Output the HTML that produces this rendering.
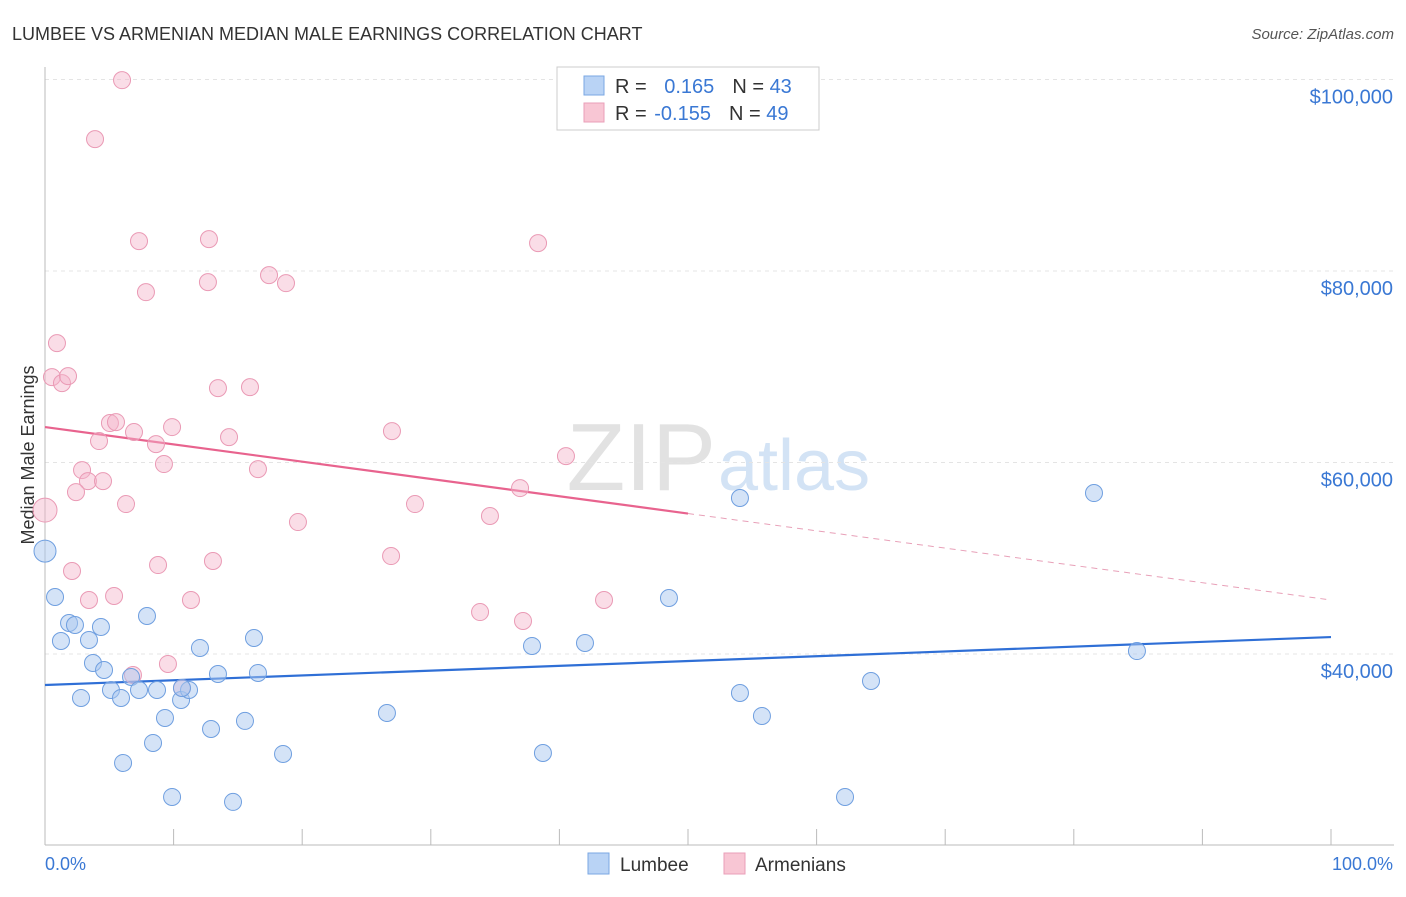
<!DOCTYPE html>
<html><head><meta charset="utf-8"><style>
body{margin:0;background:#fff;font-family:"Liberation Sans",sans-serif;}
svg text{font-family:"Liberation Sans",sans-serif;}
</style></head><body>
<svg id="c" width="1406" height="892" xmlns="http://www.w3.org/2000/svg">
<text x="12" y="40" font-size="18" fill="#333">LUMBEE VS ARMENIAN MEDIAN MALE EARNINGS CORRELATION CHART</text>
<text x="1394" y="39" font-size="15" fill="#555" text-anchor="end" font-style="italic">Source: ZipAtlas.com</text>
<text x="716" y="490" font-size="96" fill="#e2e2e2" text-anchor="end" font-family="Liberation Serif">ZIP</text>
<text x="718" y="490" font-size="72" fill="#d3e3f5">atlas</text>
<text transform="translate(34,455) rotate(-90)" font-size="18" fill="#333" text-anchor="middle">Median Male Earnings</text>
<g id="grid"></g><g id="trend"></g><g id="pts"></g>
<rect x="557" y="67" width="262" height="63" fill="#fff" stroke="#ccc"/>
<rect x="584" y="76" width="20" height="19" fill="#b9d3f5" stroke="#7aa7e3"/>
<rect x="584" y="103" width="20" height="19" fill="#f8c6d4" stroke="#ea9fb8"/>
<text x="615" y="93" font-size="20" fill="#333">R = <tspan fill="#3a78d4" dx="12">0.165</tspan><tspan dx="18" fill="#333">N = </tspan><tspan fill="#3a78d4">43</tspan></text>
<text x="615" y="120" font-size="20" fill="#333">R = <tspan fill="#3a78d4" dx="2">-0.155</tspan><tspan dx="18" fill="#333">N = </tspan><tspan fill="#3a78d4">49</tspan></text>
<rect x="588" y="853" width="21" height="21" fill="#b9d3f5" stroke="#7aa7e3"/>
<text x="620" y="871" font-size="19" fill="#333">Lumbee</text>
<rect x="724" y="853" width="21" height="21" fill="#f8c6d4" stroke="#ea9fb8"/>
<text x="755" y="871" font-size="19" fill="#333">Armenians</text>
<text x="45" y="870" font-size="18" fill="#3a78d4">0.0%</text>
<text x="1393" y="870" font-size="18" fill="#3a78d4" text-anchor="end">100.0%</text>
</svg>
<script>
const yTicks=[40000,60000,80000,100000];
const yTickLabels=["$40,000","$60,000","$80,000","$100,000"];
const xTicks=[0,10,20,30,40,50,60,70,80,90,100];
const lumbeeX=[0,0.78,1.24,1.87,2.33,3.42,4.35,3.73,4.59,2.80,5.13,5.91,6.69,7.31,8.71,6.07,7.93,8.40,9.33,9.88,10.58,11.20,10.65,12.05,12.91,13.45,14.62,15.55,16.25,16.56,18.51,26.59,37.87,38.72,41.99,48.52,54.04,54.04,55.75,62.21,64.23,81.57,84.91];
const lumbeeY=[50.75,45.95,41.36,43.24,43.03,41.46,42.82,39.06,38.33,35.41,36.24,35.41,37.60,36.24,36.24,28.62,43.97,30.71,33.32,25.07,35.20,36.24,36.45,40.63,32.17,37.91,24.55,33.01,41.67,38.02,29.56,33.84,40.84,29.66,41.15,45.85,56.29,35.93,33.53,25.07,37.18,56.81,40.31];
const armX=[5.99,3.89,7.31,12.75,38.34,7.85,12.67,17.42,18.74,0.93,0.54,1.32,1.79,13.45,15.94,5.05,5.52,6.92,9.88,4.20,8.63,14.31,26.98,2.88,9.25,16.56,40.51,3.34,4.51,2.41,6.30,0,19.67,28.77,34.60,36.94,2.10,8.79,13.06,26.91,3.42,5.37,11.35,33.83,43.47,37.17,9.56,6.84,10.65];
const armY=[99.93,93.77,83.12,83.33,82.91,77.79,78.84,79.57,78.73,72.47,68.92,68.29,69.02,67.77,67.87,64.12,64.22,63.18,63.70,62.24,61.92,62.65,63.28,59.21,59.84,59.31,60.67,58.06,58.06,56.91,55.66,55.03,53.78,55.66,54.41,57.33,48.67,49.29,49.71,50.23,45.64,46.06,45.64,44.38,45.64,43.45,38.96,37.81,36.45];
const lumbeeTrend=[36.76,41.77];
const armTrend=[63.70,45.64];
const X=p=>45+p*12.86;
const Y=v=>654-(v-40000)*191.5/20000;
const Yk=k=>Y(k*1000);
const NS="http://www.w3.org/2000/svg";
function mk(tag,attrs,parent){const e=document.createElementNS(NS,tag);for(const k in attrs)e.setAttribute(k,attrs[k]);parent.appendChild(e);return e;}
const g=document.getElementById('grid');
yTicks.forEach((t,i)=>{
 let l=mk('line',{x1:45,x2:1394,y1:Y(t),y2:Y(t),stroke:'#e4e4e4','stroke-dasharray':'4,4'},g);
 
 
 let tx=mk('text',{x:1393,y:Y(t)+24,'font-size':20,fill:'#3a78d4','text-anchor':'end'},g);
 tx.textContent=yTickLabels[i];
 
 
});
let ax=mk('line',{x1:45,x2:45,y1:67,y2:845,stroke:'#bbb'},g);


let bx=mk('line',{x1:45,x2:1394,y1:845,y2:845,stroke:'#bbb'},g);


xTicks.forEach(t=>{
 let l=mk('line',{x1:X(t),x2:X(t),y1:829,y2:845,stroke:'#bbb'},g);
 
 
});
const tr=document.getElementById('trend');
let bl=mk('line',{x1:X(0),y1:Yk(lumbeeTrend[0]),x2:X(100),y2:Yk(lumbeeTrend[1]),stroke:'#2f6fd6','stroke-width':2.2},tr);


const am=(armTrend[0]+armTrend[1])/2;
let pl=mk('line',{x1:X(0),y1:Yk(armTrend[0]),x2:X(50),y2:Yk(am),stroke:'#e8638e','stroke-width':2.2},tr);


let pd=mk('line',{x1:X(50),y1:Yk(am),x2:X(100),y2:Yk(armTrend[1]),stroke:'#e8a0b8','stroke-width':1,'stroke-dasharray':'6,5'},tr);


const pg=document.getElementById('pts');
armX.forEach((x,i)=>{
 let c=mk('circle',{cx:X(x),cy:Yk(armY[i]),r:x===0?12:8.5,fill:'rgba(245,180,202,0.45)',stroke:'#ea9ab5','stroke-width':1},pg);
 
 
});
lumbeeX.forEach((x,i)=>{
 let c=mk('circle',{cx:X(x),cy:Yk(lumbeeY[i]),r:x===0?11:8.5,fill:'rgba(170,200,240,0.5)',stroke:'#6f9fe0','stroke-width':1},pg);
 
 
});
</script>
</body></html>
